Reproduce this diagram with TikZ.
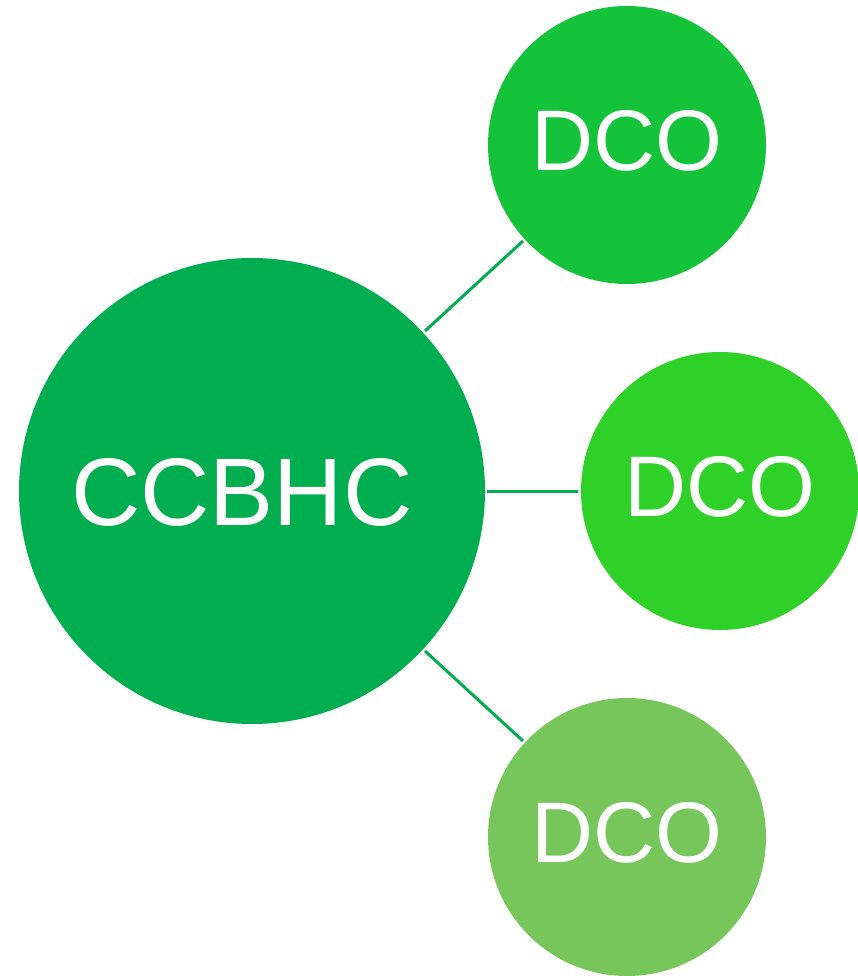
\documentclass[tikz,border=0pt]{standalone}
\usepackage{fontspec}
\setmainfont{Liberation Sans}
\definecolor{cmain}{HTML}{00AE4F}
\definecolor{cone}{HTML}{14C339}
\definecolor{ctwo}{HTML}{2FD028}
\definecolor{cthree}{HTML}{76C65C}
\tikzset{
 hub/.style={circle,fill=cmain,minimum size=466pt,inner sep=0pt},
 sat/.style={circle,minimum size=278pt,inner sep=0pt},
 hubtext/.style={text=white,inner sep=0pt,font=\fontsize{96}{96}\selectfont},
 sattext/.style={text=white,inner sep=0pt,font=\fontsize{86}{86}\selectfont},
 link/.style={draw=cmain,line width=3pt}
}
\begin{document}
\begin{tikzpicture}[x=1pt,y=-1pt]
\useasboundingbox (0,0) rectangle (858,976);
\node[hub] (h) at (252,491) {};
\node[sat,fill=cone] (a) at (627,145) {};
\node[sat,fill=ctwo] (b) at (720,491) {};
\node[sat,fill=cthree] (c) at (627,837) {};
\node[hubtext] (ht) at (242,492) {CCBHC};
\node[sattext] (at) at (627,141) {DCO};
\node[sattext] (bt) at (720,487) {DCO};
\node[sattext] (ct) at (627,833) {DCO};
\coordinate (h1) at (425,331);\coordinate (a1) at (523,241);
\coordinate (h2) at (487,491);\coordinate (b1) at (578,491);
\coordinate (h3) at (425,651);\coordinate (c1) at (523,741);
\draw[link] (h1)--(a1);
\draw[link] (h2)--(b1);
\draw[link] (h3)--(c1);
\end{tikzpicture}
\end{document}
